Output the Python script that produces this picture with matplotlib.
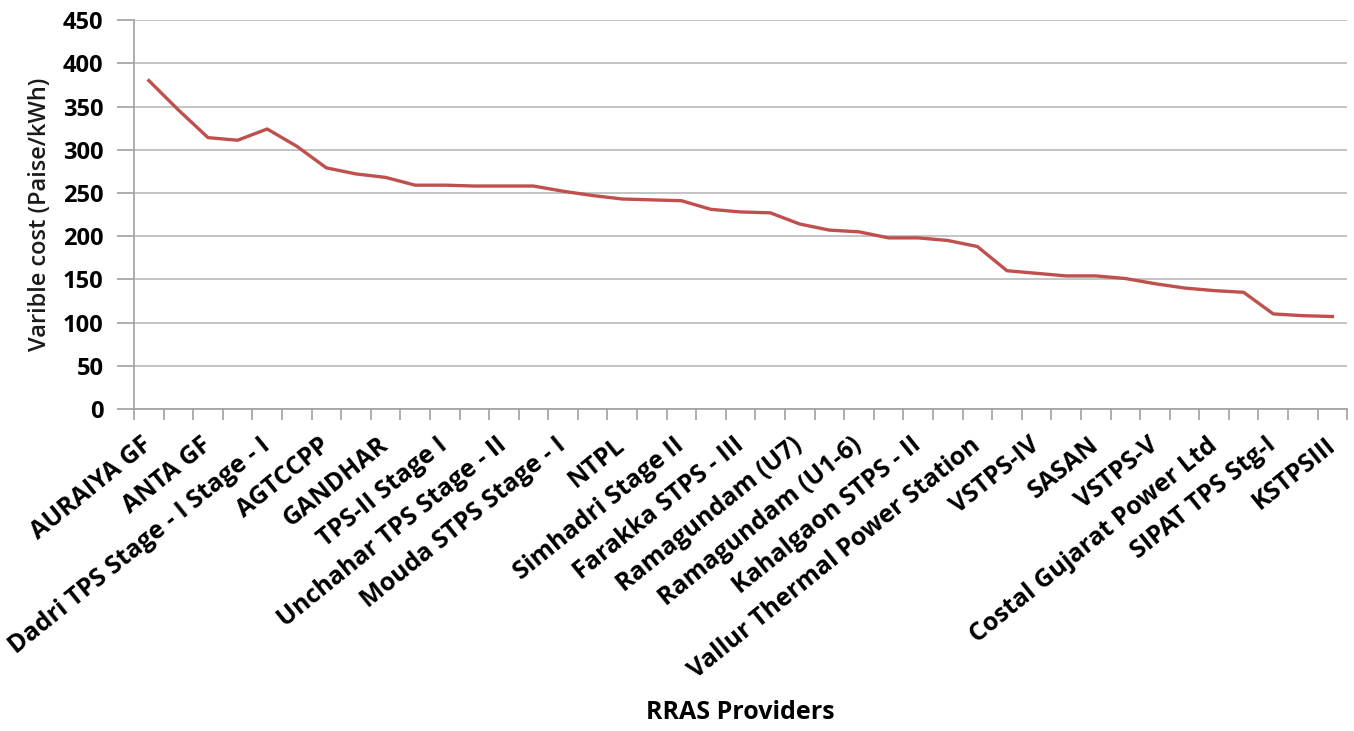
import matplotlib
matplotlib.use('Agg')
import matplotlib.pyplot as plt
import numpy as np

# Variable cost per RRAS provider (every other station is labelled on the axis)
shown_labels = [
    "AURAIYA GF", "ANTA GF", "Dadri TPS Stage - I Stage - I", "AGTCCPP",
    "GANDHAR", "TPS-II Stage I", "Unchahar TPS Stage - II",
    "Mouda STPS Stage - I", "NTPL", "Simhadri Stage II", "Farakka STPS - III",
    "Ramagundam (U7)", "Ramagundam (U1-6)", "Kahalgaon STPS - II",
    "Vallur Thermal Power Station", "VSTPS-IV", "SASAN", "VSTPS-V",
    "Costal Gujarat Power Ltd", "SIPAT TPS Stg-I", "KSTPSIII",
]
cost = [
    380, 346, 314, 311, 324, 304, 279, 272, 268, 259,
    259, 258, 258, 258, 252, 247, 243, 242, 241, 231,
    228, 227, 214, 207, 205, 198, 198, 195, 188, 160,
    157, 154, 154, 151, 145, 140, 137, 135, 110, 108,
    107,
]
yticks = [0, 50, 100, 150, 200, 250, 300, 350, 400, 450]

FONT = ["Open Sans", "DejaVu Sans"]
plt.rcParams['font.family'] = FONT

fig = plt.figure(figsize=(13.54, 7.31), dpi=100)
ax = fig.add_axes([0.099, 0.4405, 0.896, 0.532])

x = np.arange(len(cost))
ax.plot(x, cost, color="#C0504D", lw=2.4, solid_joinstyle='round')

ax.set_xlim(-0.5, len(cost) - 0.5)
ax.set_ylim(0, 450)
ax.set_yticks(yticks)
ax.set_yticklabels([str(v) for v in yticks], fontsize=17, fontweight='bold')
ax.yaxis.grid(True, color="#c4c4c4", lw=1.4)
ax.set_axisbelow(True)

# category boundaries carry the tick marks, labels sit on every other point
ax.set_xticks(np.arange(len(cost) + 1) - 0.5, minor=True)
ax.set_xticks(x[::2])
ax.set_xticklabels(shown_labels, rotation=39, ha='right', va='center',
                   rotation_mode='anchor', fontsize=18, fontweight='bold')
ax.tick_params(axis='x', which='major', length=0, pad=24)
ax.tick_params(axis='x', which='minor', length=8, color="#a0a0a0", width=1.2)
ax.tick_params(axis='y', length=12, color="#a0a0a0", width=1.2, pad=10)

for side in ['top', 'right']:
    ax.spines[side].set_visible(False)
for side in ['left', 'bottom']:
    ax.spines[side].set_color("#a0a0a0")
    ax.spines[side].set_linewidth(1.2)

ax.set_ylabel("Varible cost (Paise/kWh)", fontsize=17, fontweight='semibold',
              color="#1a1a1a", labelpad=8)
fig.text(0.547, 0.025, "RRAS Providers", fontsize=18, fontweight='bold',
         ha='center', va='center')

fig.savefig("out.png", dpi=100)
